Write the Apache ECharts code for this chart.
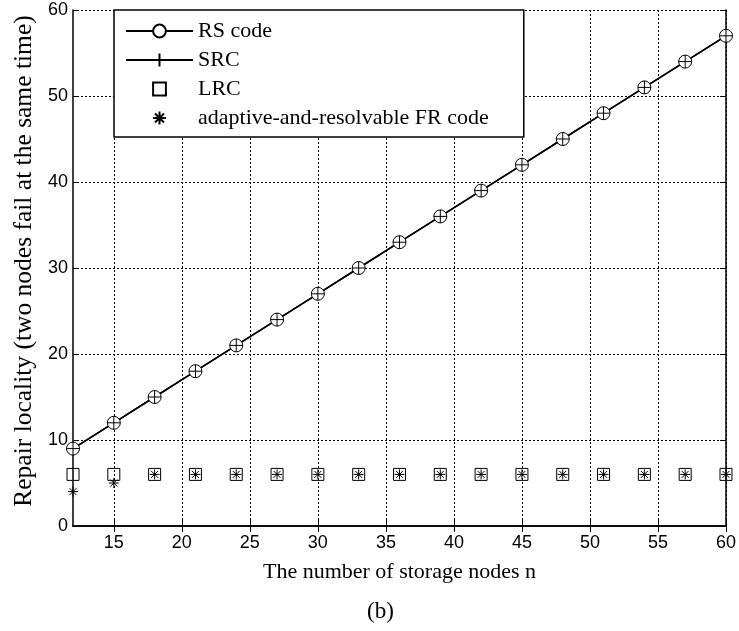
<!DOCTYPE html>
<html><head><meta charset="utf-8">
<script src="https://cdn.jsdelivr.net/npm/echarts@6/dist/echarts.min.js"></script>
<style>html,body{margin:0;padding:0;background:#fff}#c{width:739px;height:631px}</style>
</head><body><div id="c"></div>
<script>
const nodes = [12, 15, 18, 21, 24, 27, 30, 33, 36, 39, 42, 45, 48, 51, 54, 57, 60];
const rsCode = [9, 12, 15, 18, 21, 24, 27, 30, 33, 36, 39, 42, 45, 48, 51, 54, 57];
const srcCode = [9, 12, 15, 18, 21, 24, 27, 30, 33, 36, 39, 42, 45, 48, 51, 54, 57];
const lrcCode = [6, 6, 6, 6, 6, 6, 6, 6, 6, 6, 6, 6, 6, 6, 6, 6, 6];
const frCode = [4, 5, 6, 6, 6, 6, 6, 6, 6, 6, 6, 6, 6, 6, 6, 6, 6];
const xTickValues = [15, 20, 25, 30, 35, 40, 45, 50, 55, 60];
const seriesNames = ['RS code', 'SRC', 'LRC', 'adaptive-and-resolvable FR code'];

const pair = (ys) => nodes.map((x, i) => [x, ys[i]]);
const serif = '"Liberation Serif", "Times New Roman", serif';
const sans = '"Liberation Sans", Arial, sans-serif';
const PLUS = 'path://M0,-10L0,10M-10,0L10,0';
const STAR = 'path://M0,-10L0,10M-10,0L10,0M-7,-7L7,7M-7,7L7,-7';
const SQUARE = 'path://M-10,-10L10,-10L10,10L-10,10Z';

const axisLine = { show: true, lineStyle: { color: '#000', width: 1.5 } };
const tick = { show: true, inside: true, length: 6, lineStyle: { color: '#000', width: 1 } };
const grid = { show: true, lineStyle: { color: '#000', width: 1, type: [2, 2] } };

const chart = echarts.init(document.getElementById('c'), null, { renderer: 'canvas' });
chart.setOption({
  backgroundColor: '#fff',
  animation: false,
  grid: { left: 73, right: 12, top: 10, bottom: 105 },
  legend: {
    orient: 'vertical', left: 114, top: 10,
    padding: [10, 35, 8, 11],
    itemWidth: 67, itemHeight: 16, itemGap: 7,
    borderColor: '#000', borderWidth: 1.5, backgroundColor: '#fff',
    textStyle: { fontFamily: serif, fontSize: 22, color: '#000' },
    data: seriesNames
  },
  xAxis: [{
    type: 'value', min: 12, max: 60, position: 'bottom',
    axisLine, axisTick: Object.assign({ customValues: xTickValues }, tick),
    axisLabel: { customValues: xTickValues, color: '#000', fontFamily: sans, fontSize: 18, margin: 8 },
    splitLine: grid,
    name: 'The number of storage nodes n', nameLocation: 'middle', nameGap: 35,
    nameTextStyle: { fontFamily: serif, fontSize: 22, color: '#000' }
  }, {
    type: 'value', min: 12, max: 60, position: 'top',
    axisLine, axisTick: Object.assign({ customValues: xTickValues }, tick),
    axisLabel: { show: false }, splitLine: { show: false }
  }],
  yAxis: [{
    type: 'value', min: 0, max: 60, interval: 10, position: 'left',
    axisLine, axisTick: tick,
    axisLabel: { color: '#000', fontFamily: sans, fontSize: 18, margin: 5 },
    splitLine: grid,
    name: 'Repair locality (two nodes fail at the same time)', nameLocation: 'middle', nameGap: 35,
    nameTextStyle: { fontFamily: serif, fontSize: 25.5, color: '#000', padding: [0, 0, 0, 14] }
  }, {
    type: 'value', min: 0, max: 60, interval: 10, position: 'right',
    axisLine, axisTick: tick, axisLabel: { show: false }, splitLine: { show: false }
  }],
  graphic: [{
    type: 'text', left: 367, top: 600,
    style: { text: '(b)', font: '23px ' + serif, fill: '#000' }
  }],
  series: [{
    name: seriesNames[0], type: 'line', data: pair(rsCode),
    symbol: 'circle', symbolSize: 13,
    itemStyle: { color: '#fff', borderColor: '#000', borderWidth: 1 },
    lineStyle: { color: '#000', width: 1.5 }
  }, {
    name: seriesNames[1], type: 'line', data: pair(srcCode),
    symbol: PLUS, symbolSize: 13,
    itemStyle: { color: 'transparent', borderColor: '#000', borderWidth: 1 },
    lineStyle: { color: '#000', width: 1.5 }
  }, {
    name: seriesNames[2], type: 'line', data: pair(lrcCode),
    symbol: SQUARE, symbolSize: 12,
    itemStyle: { color: 'transparent', borderColor: '#000', borderWidth: 1 },
    lineStyle: { color: '#000', width: 0, opacity: 0 }
  }, {
    name: seriesNames[3], type: 'line', data: pair(frCode),
    symbol: STAR, symbolSize: 10,
    itemStyle: { color: 'transparent', borderColor: '#000', borderWidth: 1 },
    lineStyle: { color: '#000', width: 0, opacity: 0 }
  }]
});
</script></body></html>
